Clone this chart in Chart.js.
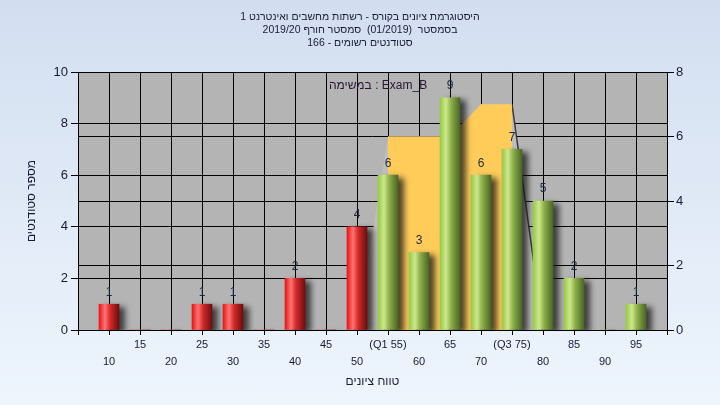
<!DOCTYPE html>
<html>
<head>
<meta charset="utf-8">
<script src="https://cdn.jsdelivr.net/npm/chart.js@4.4.1/dist/chart.umd.min.js"></script>
<style>
    html, body { margin: 0; padding: 0; }
    body {
        width: 720px; height: 405px; overflow: hidden;
        background: linear-gradient(to bottom, #d2def0 0%, #eef5fd 100%);
    }
</style>
</head>
<body>
<canvas id="histogram" width="720" height="405"></canvas>
<script>
const titleLines = [
    'היסטוגרמת ציונים בקורס - רשתות מחשבים ואינטרנט 1',
    'בסמסטר  (01/2019)  סמסטר חורף 2019/20',
    'סטודנטים רשומים - 166'
];
const examLabel = 'במשימה : Exam_B';
const xAxisTitle = 'טווח ציונים';
const yAxisTitle = 'מספר סטודנטים';

const gradeBins     = [10, 15, 20, 25, 30, 35, 40, 45, 50, 55, 60, 65, 70, 75, 80, 85, 90, 95];
const studentCounts = [ 1,  0,  0,  1,  1,  0,  2,  0,  4,  6,  3,  9,  6,  7,  5,  2,  0,  1];
const passMark = 55;

const xTickValues = [10, 15, 20, 25, 30, 35, 40, 45, 50, 55, 60, 65, 70, 75, 80, 85, 90, 95];
const xTickLabels = ['10', '15', '20', '25', '30', '35', '40', '45', '50', '(Q1 55)',
                     '60', '65', '70', '(Q3 75)', '80', '85', '90', '95'];

// right axis area (range and inter-quartile part)
const rangeX = [50, 55, 60, 65, 70, 75, 80];
const rangeY = [ 0,  6,  6,  6,  7,  7,  0];
const iqrX   = [55, 60, 65, 70, 75];
const iqrY   = [ 6,  6,  6,  7,  7];

const BAR_W = 20;
const FONT = '"Liberation Sans", Arial, sans-serif';
const textColor = '#1a1a36';
const redStops   = [[0, '#e81414'], [0.3, '#ff7474'], [0.55, '#d42a2a'], [1, '#6e0e0e']];
const greenStops = [[0, '#98c844'], [0.3, '#cce88e'], [0.55, '#8eb04a'], [1, '#4a6624']];

Chart.defaults.font.family = FONT;
Chart.defaults.color = textColor;

function barFill(context) {
    const chart = context.chart;
    if (context.type !== 'data' || !chart.chartArea) return '#cc2222';
    const bin = gradeBins[context.dataIndex];
    const cx = chart.scales.x.getPixelForValue(bin);
    const g = chart.ctx.createLinearGradient(cx - BAR_W / 2, 0, cx + BAR_W / 2, 0);
    (bin < passMark ? redStops : greenStops).forEach(s => g.addColorStop(s[0], s[1]));
    return g;
}

const plotPlugin = {
    id: 'plotDecor',
    beforeDraw(chart) {
        const { ctx, chartArea: a } = chart;
        ctx.save();
        ctx.fillStyle = '#b4b4b4';
        ctx.fillRect(a.left, a.top, a.right - a.left, a.bottom - a.top);
        ctx.restore();
    },
    beforeDatasetDraw(chart, args) {
        if (args.meta.type !== 'bar') return;
        const ctx = chart.ctx;
        ctx.save();
        ctx.shadowColor = 'rgba(20, 20, 20, 0.75)';
        ctx.shadowBlur = 6;
        ctx.shadowOffsetX = 6;
        ctx.shadowOffsetY = 3;
    },
    afterDatasetDraw(chart, args) {
        if (args.meta.type === 'bar') chart.ctx.restore();
    },
    afterDatasetsDraw(chart) {
        const ctx = chart.ctx;
        const a = chart.chartArea;
        ctx.save();
        ctx.direction = 'ltr';
        ctx.font = '12px ' + FONT;
        ctx.fillStyle = '#1c2848';
        ctx.textAlign = 'center';
        ctx.textBaseline = 'middle';
        const meta = chart.getDatasetMeta(2);
        meta.data.forEach((el, i) => {
            if (!studentCounts[i]) return;
            ctx.fillText(String(studentCounts[i]), el.x, el.y - 12);
        });

        ctx.textAlign = 'left';
        ctx.fillStyle = '#2a1436';
        ctx.fillText(examLabel, a.left + 251, a.top + 14);

        // Hebrew titles, right-to-left
        ctx.direction = 'rtl';
        ctx.textAlign = 'center';
        ctx.fillStyle = textColor;
        ctx.font = '10.5px ' + FONT;
        titleLines.forEach((line, i) => ctx.fillText(line, chart.width / 2, 17.5 + i * 13));
        ctx.font = '12px ' + FONT;
        ctx.fillText(xAxisTitle, (a.left + a.right) / 2, 381.5);
        ctx.translate(32, (a.top + a.bottom) / 2);
        ctx.rotate(-Math.PI / 2);
        ctx.fillText(yAxisTitle, 0, 0);
        ctx.restore();
    }
};

const toPoints = (xs, ys) => xs.map((x, i) => ({ x: x, y: ys[i] }));

new Chart(document.getElementById('histogram'), {
    type: 'bar',
    data: {
        datasets: [
            {
                type: 'line',
                data: toPoints(rangeX, rangeY),
                yAxisID: 'y1',
                fill: 'origin',
                backgroundColor: '#bfbfbf',
                borderColor: 'rgba(0,0,0,0)',
                borderWidth: 1.5,
                pointRadius: 0,
                segment: {
                    borderColor: c => c.p1DataIndex === rangeX.length - 1 ? '#3a3a3a' : 'rgba(0,0,0,0)'
                },
                order: 3
            },
            {
                type: 'line',
                data: toPoints(iqrX, iqrY),
                yAxisID: 'y1',
                fill: 'origin',
                backgroundColor: '#ffcc5a',
                borderWidth: 0,
                borderColor: 'rgba(0,0,0,0)',
                pointRadius: 0,
                order: 2
            },
            {
                type: 'bar',
                data: toPoints(gradeBins, studentCounts),
                yAxisID: 'y',
                backgroundColor: barFill,
                borderWidth: 0,
                barThickness: BAR_W,
                order: 1
            }
        ]
    },
    options: {
        responsive: false,
        animation: false,
        layout: { padding: { top: 72 } },
        plugins: {
            legend: { display: false },
            tooltip: { enabled: false },
            title: { display: false }
        },
        scales: {
            x: {
                type: 'linear',
                min: 5,
                max: 100,
                offset: false,
                afterFit: s => { s.height = 75; },
                afterBuildTicks: s => {
                    s.ticks = [5].concat(xTickValues, [100]).map(v => ({ value: v }));
                },
                ticks: {
                    autoSkip: false,
                    maxRotation: 0,
                    padding: 1,
                    color: textColor,
                    font: { size: 11, lineHeight: 1.55 },
                    callback: v => {
                        const i = xTickValues.indexOf(v);
                        if (i < 0) return '';
                        return v % 10 === 5 ? [xTickLabels[i], ''] : ['', xTickLabels[i]];
                    }
                },
                grid: { color: '#000', lineWidth: 1, tickLength: 5, offset: false },
                border: { color: '#000', width: 1 }
            },
            y: {
                position: 'left',
                min: 0,
                max: 10,
                afterFit: s => { s.width = 78; },
                ticks: { stepSize: 2, padding: 3, color: textColor, font: { size: 13 } },
                grid: { color: '#000', lineWidth: 1, tickLength: 7 },
                border: { color: '#000', width: 1 }
            },
            y1: {
                position: 'right',
                min: 0,
                max: 8,
                afterFit: s => { s.width = 53; },
                ticks: { stepSize: 2, padding: 2, color: textColor, font: { size: 13 } },
                grid: { color: '#000', lineWidth: 1, tickLength: 7, drawOnChartArea: true },
                border: { color: '#000', width: 1 }
            }
        }
    },
    plugins: [plotPlugin]
});
</script>
</body>
</html>
